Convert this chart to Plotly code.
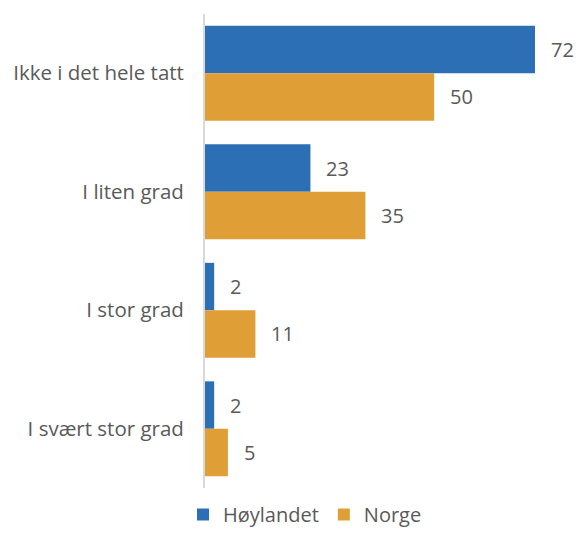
import plotly.graph_objects as go

categories = ["Ikke i det hele tatt", "I liten grad", "I stor grad", "I svært stor grad"]
hoylandet = [72, 23, 2, 2]
norge = [50, 35, 11, 5]

series = [("Høylandet", hoylandet, "#2C6FB4"), ("Norge", norge, "#E09E36")]

FONT = "Open Sans"
SIZE = 20
TEXT_COLOR = "#595959"

fig = go.Figure()
for name, vals, color in series:
    fig.add_trace(go.Bar(
        y=categories, x=vals, name=name, orientation="h",
        marker=dict(color=color, line=dict(width=0)),
        text=[str(v) for v in vals], textposition="none",
    ))

# value labels placed just right of each bar end
annotations = []
for i, (name, vals, color) in enumerate(series):
    for cat, v in zip(categories, vals):
        annotations.append(dict(
            x=v, y=cat, xref="x", yref="y", text=str(v), showarrow=False,
            xanchor="left", xshift=14, yshift=23.7 if i == 0 else -23.7,
            font=dict(family=FONT, size=SIZE, color=TEXT_COLOR),
        ))

fig.update_layout(
    width=578, height=534,
    margin=dict(l=205, r=10, t=14, b=46, autoexpand=False),
    paper_bgcolor="white", plot_bgcolor="white",
    barmode="group", bargap=0.2, bargroupgap=0,
    font=dict(family=FONT, size=SIZE, color=TEXT_COLOR),
    annotations=annotations,
    legend=dict(orientation="h", xref="container", x=183 / 578, xanchor="left",
                yref="container", y=-0.008, yanchor="bottom",
                font=dict(family=FONT, size=SIZE, color=TEXT_COLOR),
                itemwidth=30, traceorder="normal"),
    xaxis=dict(range=[0, 79.2], visible=False, fixedrange=True),
    yaxis=dict(autorange="reversed", showline=True, linecolor="#D9D9D9", linewidth=2,
               ticks="", ticklabelstandoff=15, showgrid=False, zeroline=False,
               tickfont=dict(family=FONT, size=20.5, color=TEXT_COLOR)),
)

fig.write_html("out.html")
